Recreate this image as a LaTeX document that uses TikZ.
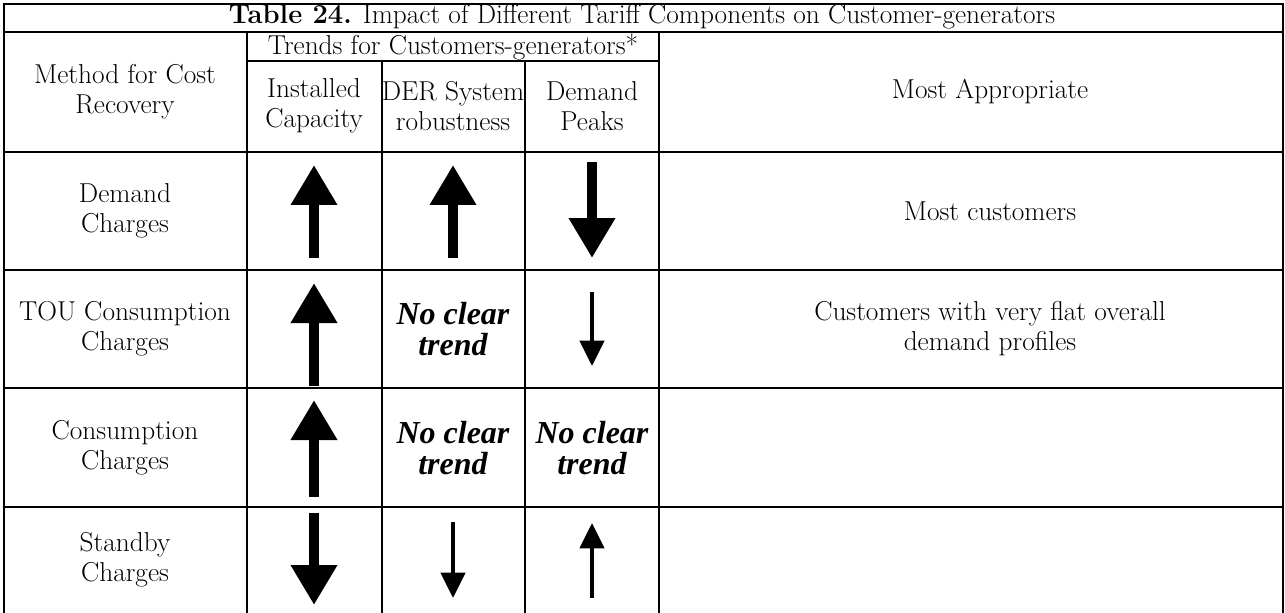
\documentclass[tikz,border=0pt]{standalone}
\usepackage{fontspec}
\newfontfamily\trendfont{Liberation Serif}
\usetikzlibrary{arrows.meta}
\tikzset{
  rule/.style={line width=1.9pt},
  txt/.style={align=center, inner sep=0pt, font=\fontsize{20.5}{22.5}\selectfont},
  trend/.style={align=center, inner sep=0pt, font={\trendfont\bfseries\itshape\fontsize{24}{23}\selectfont}},
  bigarrow/.style={line width=7.5pt, -{Triangle[width=33pt,length=30pt]}},
  thinarrow/.style={line width=3.4pt, -{Triangle[width=18pt,length=19pt]}}
}
\begin{document}
\begin{tikzpicture}[x=0.75pt,y=0.75pt,yscale=-1,xscale=1]
\useasboundingbox (0,0) rectangle (1285,613);

%Straight Lines: frame and horizontal rules
\draw[rule] (4,613) -- (4,4) -- (1283,4) -- (1283,613);
\draw[rule] (4,32) -- (1283,32);
\draw[rule] (247,61) -- (659,61);
\draw[rule] (4,152) -- (1283,152);
\draw[rule] (4,270) -- (1283,270);
\draw[rule] (4,388) -- (1283,388);
\draw[rule] (4,507) -- (1283,507);
%Straight Lines: column rules
\draw[rule] (247,32) -- (247,613);
\draw[rule] (659,32) -- (659,613);
\draw[rule] (382,61) -- (382,613);
\draw[rule] (525,61) -- (525,613);

% Text Node
\node[txt] (title) at (642,17) {\textbf{Table 24.} Impact of Different Tariff Components on Customer-generators};
% Text Node
\node[txt] (method) at (125,92) {Method for Cost\\Recovery};
% Text Node
\node[txt] (trends) at (453,47) {Trends for Customers-generators*};
% Text Node
\node[txt] (inst) at (314,106) {Installed\\Capacity};
% Text Node
\node[txt] (der) at (453,106) {DER System\\robustness};
% Text Node
\node[txt] (peaks) at (592,106) {Demand\\Peaks};
% Text Node
\node[txt] (approp) at (990,92) {Most Appropriate};

% Text Node
\node[txt] (demand) at (125,211) {Demand\\Charges};
% Text Node
\node[txt] (tou) at (125,329) {TOU Consumption\\Charges};
% Text Node
\node[txt] (cons) at (125,448) {Consumption\\Charges};
% Text Node
\node[txt] (standby) at (125,560) {Standby\\Charges};
% Text Node
\node[txt] (most) at (990,211) {Most customers};
% Text Node
\node[txt] (flat) at (990,329) {Customers with very flat overall\\demand profiles};
% Text Node
\node[trend] (touder) at (453,329) {No clear\\trend};
% Text Node
\node[trend] (consder) at (453,448) {No clear\\trend};
% Text Node
\node[trend] (conspeak) at (592,448) {No clear\\trend};

%Arrows: demand charges
\coordinate (dinA) at (314,258); \coordinate (dinB) at (314,165);
\draw[bigarrow] (dinA) -- (dinB);
\coordinate (dderA) at (453,258); \coordinate (dderB) at (453,165);
\draw[bigarrow] (dderA) -- (dderB);
\coordinate (dpkA) at (592,162); \coordinate (dpkB) at (592,258);
\draw[bigarrow] (dpkA) -- (dpkB);

%Arrows: TOU consumption charges
\coordinate (tinA) at (314,386); \coordinate (tinB) at (314,283);
\draw[bigarrow] (tinA) -- (tinB);
\coordinate (tpkA) at (592,292); \coordinate (tpkB) at (592,366);
\draw[thinarrow] (tpkA) -- (tpkB);

%Arrows: consumption charges
\coordinate (cinA) at (314,497); \coordinate (cinB) at (314,400);
\draw[bigarrow] (cinA) -- (cinB);

%Arrows: standby charges
\coordinate (sinA) at (314,513); \coordinate (sinB) at (314,605);
\draw[bigarrow] (sinA) -- (sinB);
\coordinate (sderA) at (453,522); \coordinate (sderB) at (453,598);
\draw[thinarrow] (sderA) -- (sderB);
\coordinate (spkA) at (592,598); \coordinate (spkB) at (592,523);
\draw[thinarrow] (spkA) -- (spkB);

\end{tikzpicture}
\end{document}
